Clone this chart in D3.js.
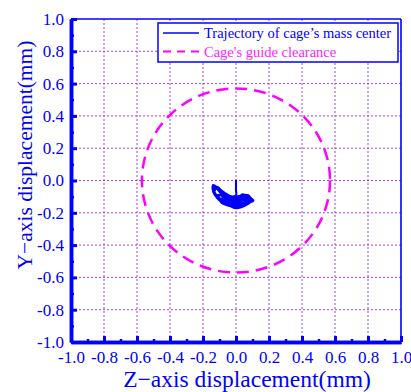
<!DOCTYPE html>
<html>
<head>
<meta charset="utf-8">
<script src="https://cdn.jsdelivr.net/npm/d3@7/dist/d3.min.js"></script>
<style>
  html, body { margin: 0; padding: 0; background: #fff; }
  svg { display: block; }
  text { font-family: "Liberation Serif", "Times New Roman", serif; }
</style>
</head>
<body>
<svg id="chart" width="411" height="392"></svg>
<script>
// Axis ticks (mm)
const majorTicks = [-1.0, -0.8, -0.6, -0.4, -0.2, 0.0, 0.2, 0.4, 0.6, 0.8, 1.0];
const minorTicks = [-0.9, -0.7, -0.5, -0.3, -0.1, 0.1, 0.3, 0.5, 0.7, 0.9];

// Guide clearance of the cage (radius, mm) centred at the origin
const clearanceCenter = [0, 0];
const clearanceRadius = 0.57;

// Trajectory of the cage's mass center: Z and Y displacement (mm)
const trajZ = [
  0.000, 0.000, 0.000, 0.001,
  -0.020, -0.055, -0.095, -0.138, -0.142, -0.130, -0.100, -0.060, -0.010, 0.040, 0.080, 0.102, 0.075, 0.050, 0.020,
  -0.030, -0.075, -0.125, -0.134, -0.112, -0.080, -0.030, 0.020, 0.060, 0.095, 0.088, 0.062, 0.042, 0.012,
  -0.040, -0.088, -0.120, -0.136, -0.130, -0.098, -0.058, -0.008, 0.032, 0.070, 0.106, 0.092, 0.072, 0.046, 0.018,
  -0.020, -0.070, -0.100, -0.120, -0.095, -0.050, 0.000, 0.045, 0.085, 0.070, 0.030,
  -0.010, -0.060, -0.098, -0.110, -0.080, -0.030, 0.015, 0.055, 0.098, 0.080, 0.060, 0.035, 0.005,
  -0.045, -0.082, -0.110, -0.132, -0.100, -0.065, -0.020, 0.025, 0.065, 0.090, 0.055, 0.025, -0.010, -0.050,
  -0.085, -0.070, -0.030, 0.010, 0.050, 0.075,
  0.060, 0.020, -0.030, -0.075, -0.090, -0.050, 0.000, 0.040, 0.070, 0.085,
  0.050, 0.010, -0.040, -0.075, -0.065, -0.020, 0.030, 0.060, 0.080, 0.068, 0.040,
  0.050, 0.065, 0.080, 0.075, 0.090, 0.100, 0.085,
  0.045, 0.000, -0.045, -0.085, -0.095, -0.060, -0.015, 0.030, 0.058, 0.040, 0.005, -0.035, -0.065,
  -0.040, 0.000, 0.035, 0.062, 0.072,
  -0.080, -0.040, 0.000, 0.040, 0.070, 0.050, 0.010, -0.030, -0.070, -0.085, -0.050, -0.010, 0.030, 0.065
];
const trajY = [
  0.005, -0.030, -0.060, -0.090,
  -0.100, -0.085, -0.058, -0.028, -0.050, -0.088, -0.118, -0.145, -0.162, -0.155, -0.135, -0.120, -0.108, -0.090, -0.100,
  -0.098, -0.072, -0.036, -0.062, -0.100, -0.130, -0.155, -0.168, -0.150, -0.127, -0.106, -0.098, -0.086, -0.102,
  -0.102, -0.082, -0.045, -0.030, -0.072, -0.110, -0.140, -0.170, -0.165, -0.142, -0.124, -0.112, -0.090, -0.100, -0.096,
  -0.110, -0.100, -0.088, -0.098, -0.128, -0.150, -0.172, -0.160, -0.132, -0.115, -0.112,
  -0.118, -0.110, -0.092, -0.110, -0.138, -0.160, -0.170, -0.155, -0.122, -0.100, -0.088, -0.098, -0.108,
  -0.095, -0.078, -0.040, -0.075, -0.115, -0.135, -0.158, -0.162, -0.145, -0.118, -0.112, -0.125, -0.135, -0.125,
  -0.110, -0.135, -0.148, -0.150, -0.138, -0.125,
  -0.118, -0.105, -0.112, -0.118, -0.135, -0.155, -0.165, -0.158, -0.140, -0.128,
  -0.122, -0.128, -0.130, -0.125, -0.145, -0.160, -0.152, -0.132, -0.112, -0.098, -0.108,
  -0.100, -0.090, -0.100, -0.115, -0.112, -0.125, -0.135,
  -0.142, -0.140, -0.128, -0.112, -0.128, -0.148, -0.158, -0.150, -0.135, -0.122, -0.118, -0.120, -0.132,
  -0.148, -0.156, -0.150, -0.138, -0.122,
  -0.128, -0.138, -0.145, -0.140, -0.130, -0.148, -0.158, -0.150, -0.138, -0.120, -0.128, -0.135, -0.128, -0.115
];

// Legend entries
const legendLabels = ["Trajectory of cage\u2019s mass center", "Cage's guide clearance"];

const blue = "#0000ff";
const magenta = "#ff00ff";
const gridColor = "#a040ff";

const svg = d3.select("#chart");
const plotLeft = 71, plotRight = 401, plotTop = 19, plotBottom = 342;

const x = d3.scaleLinear().domain([-1, 1]).range([plotLeft, plotRight]);
const y = d3.scaleLinear().domain([-1, 1]).range([plotBottom, plotTop]);

// Dotted grid
const inner = majorTicks.filter(d => d > -1 && d < 1);
const grid = svg.append("g");
grid.selectAll("line.gx").data(inner).join("line").attr("class", "gx")
  .attr("x1", d => x(d)).attr("x2", d => x(d))
  .attr("y1", plotTop).attr("y2", plotBottom)
  .attr("stroke", gridColor).attr("stroke-width", 1).attr("stroke-dasharray", "2,2");
grid.selectAll("line.gy").data(inner).join("line").attr("class", "gy")
  .attr("x1", plotLeft).attr("x2", plotRight)
  .attr("y1", d => y(d)).attr("y2", d => y(d))
  .attr("stroke", gridColor).attr("stroke-width", 1).attr("stroke-dasharray", "2,2");

// Guide clearance circle
svg.append("ellipse")
  .attr("cx", x(clearanceCenter[0]))
  .attr("cy", y(clearanceCenter[1]))
  .attr("rx", x(clearanceRadius) - x(0))
  .attr("ry", y(0) - y(clearanceRadius))
  .attr("fill", "none")
  .attr("stroke", magenta)
  .attr("stroke-width", 2.5)
  .attr("stroke-dasharray", "12,7");

// Mass-center trajectory
const line = d3.line()
  .x(i => x(trajZ[i]))
  .y(i => y(trajY[i]))
  .curve(d3.curveCatmullRom);
svg.append("path")
  .attr("d", line(d3.range(trajZ.length)))
  .attr("fill", "none")
  .attr("stroke", blue)
  .attr("stroke-width", 2.1)
  .attr("stroke-linejoin", "round");

// Frame: thin top and right edges
svg.append("line").attr("x1", plotLeft).attr("x2", plotRight).attr("y1", plotTop).attr("y2", plotTop)
  .attr("stroke", blue).attr("stroke-width", 1.6);
svg.append("line").attr("x1", plotRight).attr("x2", plotRight).attr("y1", plotTop).attr("y2", plotBottom)
  .attr("stroke", blue).attr("stroke-width", 1.6);

const fmt = d => d.toFixed(1);

function styleAxis(g, width) {
  g.select(".domain").attr("stroke", blue).attr("stroke-width", 3.5);
  g.selectAll(".tick line").attr("stroke", blue).attr("stroke-width", width);
  g.selectAll(".tick text").attr("fill", blue)
    .style("font-family", "'Liberation Serif', 'Times New Roman', serif")
    .style("font-size", "17px");
}

// Bottom axis
const xMinor = svg.append("g").attr("transform", `translate(0,${plotBottom})`)
  .call(d3.axisBottom(x).tickValues(minorTicks).tickSize(-3).tickSizeOuter(0).tickFormat(""));
styleAxis(xMinor, 2.5);
const xAxis = svg.append("g").attr("transform", `translate(0,${plotBottom})`)
  .call(d3.axisBottom(x).tickValues(majorTicks).tickSize(-6).tickSizeOuter(0).tickPadding(9).tickFormat(fmt));
styleAxis(xAxis, 3);

// Left axis
const yMinor = svg.append("g").attr("transform", `translate(${plotLeft},0)`)
  .call(d3.axisLeft(y).tickValues(minorTicks).tickSize(-3).tickSizeOuter(0).tickFormat(""));
styleAxis(yMinor, 2.5);
const yAxis = svg.append("g").attr("transform", `translate(${plotLeft},0)`)
  .call(d3.axisLeft(y).tickValues(majorTicks).tickSize(-6).tickSizeOuter(0).tickPadding(7).tickFormat(fmt));
styleAxis(yAxis, 3);

// Axis titles
svg.append("text")
  .attr("x", 247).attr("y", 387)
  .attr("text-anchor", "middle")
  .attr("fill", blue).style("font-size", "23.5px")
  .text("Z\u2212axis displacement(mm)");
svg.append("text")
  .attr("transform", "translate(32,155) rotate(-90)")
  .attr("text-anchor", "middle")
  .attr("fill", blue).style("font-size", "21.5px")
  .text("Y\u2212axis displacement(mm)");

// Legend
const lg = svg.append("g");
lg.append("rect").attr("x", 158).attr("y", 23).attr("width", 240).attr("height", 39)
  .attr("fill", "#fff").attr("stroke", blue).attr("stroke-width", 1.5);
lg.append("line").attr("x1", 163).attr("x2", 199).attr("y1", 33).attr("y2", 33)
  .attr("stroke", blue).attr("stroke-width", 1.6);
lg.append("line").attr("x1", 163).attr("x2", 199).attr("y1", 51.5).attr("y2", 51.5)
  .attr("stroke", magenta).attr("stroke-width", 1.8).attr("stroke-dasharray", "8,6");
lg.selectAll("text.lab").data(legendLabels).join("text").attr("class", "lab")
  .attr("x", 204).attr("y", (d, i) => 38 + i * 18.5)
  .attr("fill", (d, i) => i === 0 ? blue : "#ff22ff")
  .style("font-size", "14.5px")
  .text(d => d);
</script>
</body>
</html>
